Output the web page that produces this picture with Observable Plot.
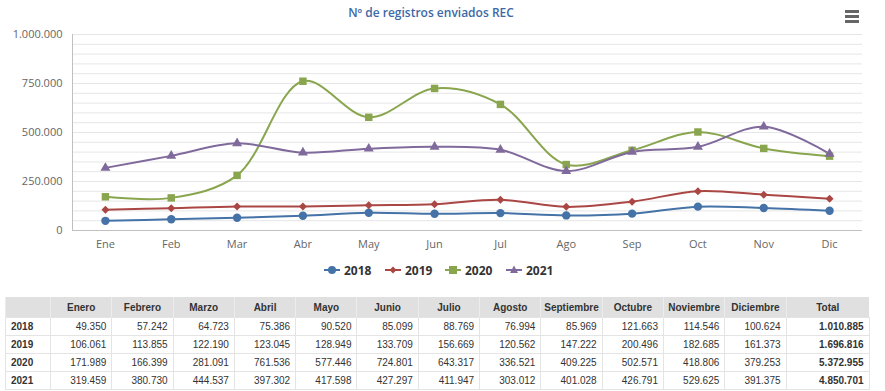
<!DOCTYPE html>
<html><head><meta charset="utf-8">
<script src="https://cdn.jsdelivr.net/npm/d3@7"></script>
<script src="https://cdn.jsdelivr.net/npm/@observablehq/plot@0.6"></script>
<style>
body{margin:0;background:#fff;font-family:"DejaVu Sans",Verdana,sans-serif;}
#wrap{position:relative;width:885px;height:391px;overflow:hidden;}
#title{position:absolute;left:0;width:862px;top:4px;text-align:center;font-family:"Open Sans","DejaVu Sans",sans-serif;font-size:12px;font-weight:600;color:#3d6aa6;}
#menu{position:absolute;left:845px;top:10px;width:14px;}
#menu div{height:2.5px;background:#666;margin-bottom:2.5px;}
#chart{position:absolute;left:0;top:0;}
#legend{position:absolute;top:261px;left:0;width:885px;height:18px;}
.li{position:absolute;top:0;display:flex;align-items:center;font-family:"Open Sans","DejaVu Sans",sans-serif;font-weight:700;font-size:12px;color:#333;}
.li svg{margin-right:4px;}
table{position:absolute;left:5px;top:297px;border-collapse:collapse;font-family:"Liberation Sans",Arial,sans-serif;font-size:10px;color:#333;table-layout:fixed;}
th{background:#e0e0e0;font-weight:700;height:20px;text-align:center;border-left:1px solid #ececec;padding:0;}
td{height:17px;border:1px solid #e4e4e4;text-align:right;padding:0 5px;}
td.lab{text-align:left;font-weight:700;}
td.tot{font-weight:700;}
</style></head>
<body>
<div id="wrap">
<div id="chart"></div>
<div id="title">Nº de registros enviados REC</div>
<div id="menu"><div></div><div></div><div></div></div>
<div id="legend"></div>
<table id="tbl"></table>
</div>
<script>
const months = ["Ene","Feb","Mar","Abr","May","Jun","Jul","Ago","Sep","Oct","Nov","Dic"];
const monthNames = ["Enero","Febrero","Marzo","Abril","Mayo","Junio","Julio","Agosto","Septiembre","Octubre","Noviembre","Diciembre"];
const years = ["2018","2019","2020","2021"];
const v2018 = [49350,57242,64723,75386,90520,85099,88769,76994,85969,121663,114546,100624];
const v2019 = [106061,113855,122190,123045,128949,133709,156669,120562,147222,200496,182685,161373];
const v2020 = [171989,166399,281091,761536,577446,724801,643317,336521,409225,502571,418806,379253];
const v2021 = [319459,380730,444537,397302,417598,427297,411947,303012,401028,426791,529625,391375];
const yTicks = [0,250000,500000,750000,1000000];
const colors = ["#4572A7","#AA4643","#89A54E","#80699B"];
const symbols = ["circle","diamond2","square","triangle"];
const symSizes = [4.2,3.6,4.2,3.7];

const series = [v2018,v2019,v2020,v2021];
const data = [];
series.forEach((vals,i)=>vals.forEach((v,j)=>data.push({year:years[i],month:months[j],value:v})));

const fmt = n => d3.format(",")(n).replace(/,/g,".");

const chart = Plot.plot({
  width:885, height:260,
  marginTop:34, marginBottom:30, marginLeft:72, marginRight:23,
  style:{fontFamily:"'Open Sans','DejaVu Sans',sans-serif",fontSize:"11px",color:"#666",background:"transparent"},
  x:{type:"point",domain:months,padding:0.5,round:false,label:null,tickSize:0},
  y:{domain:[0,1000000],label:null},
  color:{domain:years,range:colors},
  symbol:{domain:years,range:symbols},
  marks:[
    Plot.ruleY(d3.range(50000,1000001,50000),{stroke:"#e6e6e6",strokeWidth:1}),
    Plot.ruleY([0],{stroke:"#c0c0c0"}),
    Plot.axisY(yTicks,{tickFormat:fmt,tickSize:0,tickPadding:10,fill:"#666",fontSize:11}),
    Plot.axisX({tickSize:0,tickPadding:10,fill:"#666",fontSize:11}),
    Plot.line(data,{x:"month",y:"value",z:"year",stroke:"year",strokeWidth:2,curve:"catmull-rom"}),
    ...years.map((yr,i)=>Plot.dot(data.filter(d=>d.year===yr),{x:"month",y:"value",fill:colors[i],symbol:()=>yr,r:symSizes[i],stroke:"none"}))
  ]
});
document.getElementById("chart").appendChild(chart);
// left axis line
const svg = d3.select(chart);
svg.append("line").attr("x1",72.5).attr("x2",72.5).attr("y1",34).attr("y2",230).attr("stroke","#c0c0c0");

// legend
const legend = document.getElementById("legend");
const legX = [324,385,445,506];
const symPaths = {
  circle:'<circle cx="8" cy="9" r="4"/>',
  diamond2:'<path d="M8,5.5L11.5,9L8,12.5L4.5,9Z"/>',
  square:'<rect x="4" y="5" width="8" height="8"/>',
  triangle:'<path d="M8,4.5L12,12L4,12Z"/>'
};
years.forEach((yr,i)=>{
  const d = document.createElement("div");
  d.className="li"; d.style.left=legX[i]+"px";
  d.innerHTML=`<svg width="16" height="18"><line x1="0" x2="16" y1="9" y2="9" stroke="${colors[i]}" stroke-width="2"/><g fill="${colors[i]}">${symPaths[symbols[i]]}</g></svg><span>${yr}</span>`;
  legend.appendChild(d);
});

// table
const tbl = document.getElementById("tbl");
let html = '<colgroup><col style="width:45px">' + monthNames.map(()=>'<col style="width:61.3px">').join("") + '<col style="width:83px"></colgroup>';
html += '<tr><th></th>' + monthNames.map(m=>`<th>${m}</th>`).join("") + '<th>Total</th></tr>';
series.forEach((vals,i)=>{
  html += `<tr><td class="lab">${years[i]}</td>` + vals.map(v=>`<td>${fmt(v)}</td>`).join("") + `<td class="tot">${fmt(d3.sum(vals))}</td></tr>`;
});
tbl.innerHTML = html;
</script>
</body></html>
